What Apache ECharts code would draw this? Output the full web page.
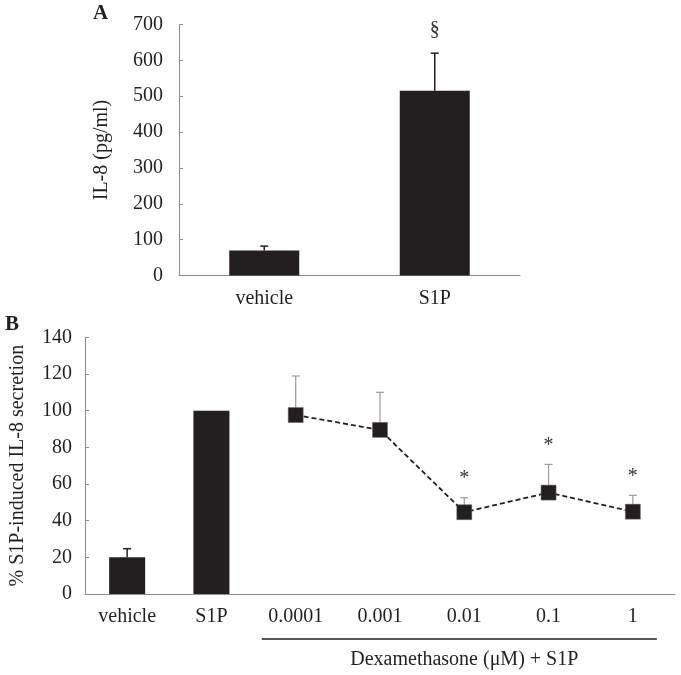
<!DOCTYPE html>
<html><head><meta charset="utf-8">
<script src="https://cdn.jsdelivr.net/npm/echarts@6/dist/echarts.min.js"></script>
<style>html,body{margin:0;padding:0;background:#fff}#c{width:681px;height:675px}</style>
</head><body><div id="c"></div>
<script>
// ---- Panel A data ----
const catsA = ['vehicle', 'S1P'];
const meanA = [70, 515];
const upperA = [82, 620];
const marksA = ['', '§'];
const yA = { min: 0, max: 700, interval: 100 };
const yNameA = 'IL-8 (pg/ml)';

// ---- Panel B data ----
const catsB = ['vehicle', 'S1P', '0.0001', '0.001', '0.01', '0.1', '1'];
const barB = [20, 100, null, null, null, null, null];
const barUpperB = [24.7, null, null, null, null, null, null];
const lineB = [null, null, 97.6, 89.5, 44.6, 55.3, 44.9];
const lineUpperB = [null, null, 118.9, 110, 52.5, 70.7, 53.8];
const marksB = ['', '', '', '', '*', '*', '*'];
const yB = { min: 0, max: 140, interval: 20 };
const yNameB = '% S1P-induced IL-8 secretion';
const groupLabelB = 'Dexamethasone (μM) + S1P';
const panelLetters = ['A', 'B'];

const FONT = '"Liberation Serif", "Times New Roman", serif';
const INK = '#231f20';
const AXIS = '#8c8c8c';

function errData(means, uppers, marks) {
  const out = [];
  means.forEach((m, i) => {
    if (m != null && uppers[i] != null) out.push({ value: [i, m, uppers[i]], mark: marks[i] });
  });
  return out;
}
function errSeries(xi, yi, data, color, width, capHalf, markGap) {
  return {
    type: 'custom', xAxisIndex: xi, yAxisIndex: yi, z: 1, silent: true,
    data: data,
    renderItem: function (params, api) {
      const i = api.value(0), m = api.value(1), u = api.value(2);
      const p0 = api.coord([i, m]), p1 = api.coord([i, u]);
      const ch = [
        { type: 'line', shape: { x1: p0[0], y1: p0[1], x2: p1[0], y2: p1[1] }, style: { stroke: color, lineWidth: width } },
        { type: 'line', shape: { x1: p1[0] - capHalf, y1: p1[1], x2: p1[0] + capHalf, y2: p1[1] }, style: { stroke: color, lineWidth: width } }
      ];
      const mk = data[params.dataIndex].mark;
      if (mk) ch.push({ type: 'text', x: p1[0], y: p1[1] - markGap,
        style: { text: mk, fill: '#333', font: '20px ' + FONT, textAlign: 'center', textVerticalAlign: 'middle' } });
      return { type: 'group', children: ch };
    }
  };
}

const axisLabelStyle = { fontFamily: FONT, fontSize: 20, color: INK };

const chart = echarts.init(document.getElementById('c'), null, { renderer: 'canvas' });
const option = {
  animation: false,
  backgroundColor: '#fff',
  grid: [
    { left: 179, top: 24.5, width: 341, height: 251 },
    { left: 81.7, top: 337.3, width: 593.3, height: 256.7 }
  ],
  xAxis: [
    { gridIndex: 0, type: 'category', data: catsA, axisLine: { lineStyle: { color: AXIS, width: 1 } },
      axisTick: { show: false }, axisLabel: Object.assign({ margin: 13 }, axisLabelStyle) },
    { gridIndex: 1, type: 'category', data: catsB, axisLine: { lineStyle: { color: AXIS, width: 1 } },
      axisTick: { show: false }, axisLabel: Object.assign({ margin: 13 }, axisLabelStyle) }
  ],
  yAxis: [
    { gridIndex: 0, type: 'value', min: yA.min, max: yA.max, interval: yA.interval, splitLine: { show: false },
      axisLine: { show: true, lineStyle: { color: AXIS, width: 1 } },
      axisTick: { show: true, inside: true, length: 4, lineStyle: { color: AXIS } },
      axisLabel: Object.assign({ margin: 16 }, axisLabelStyle),
      name: yNameA, nameLocation: 'middle', nameRotate: 90, nameGap: 67,
      nameTextStyle: { fontFamily: FONT, fontSize: 20, color: INK } },
    { gridIndex: 1, type: 'value', min: yB.min, max: yB.max, interval: yB.interval, splitLine: { show: false },
      axisLine: { show: true, lineStyle: { color: AXIS, width: 1 } },
      axisTick: { show: true, inside: true, length: 4, lineStyle: { color: AXIS } },
      axisLabel: Object.assign({ margin: 13 }, axisLabelStyle),
      name: yNameB, nameLocation: 'middle', nameRotate: 90, nameGap: 57,
      nameTextStyle: { fontFamily: FONT, fontSize: 20, color: INK } }
  ],
  series: [
    { type: 'bar', xAxisIndex: 0, yAxisIndex: 0, data: meanA, barWidth: 70, itemStyle: { color: INK }, z: 2 },
    errSeries(0, 0, errData(meanA, upperA, marksA), INK, 1.5, 4, 23),
    { type: 'bar', xAxisIndex: 1, yAxisIndex: 1, data: barB.map(v => v == null ? '-' : v), barWidth: 36, itemStyle: { color: INK }, z: 2 },
    errSeries(1, 1, errData(barB, barUpperB, marksB), INK, 1.5, 4, 19),
    errSeries(1, 1, errData(lineB, lineUpperB, marksB), '#9a9a9a', 1.2, 4, 19),
    { type: 'line', xAxisIndex: 1, yAxisIndex: 1, data: lineB.map(v => v == null ? '-' : v),
      symbol: 'rect', symbolSize: 15, showSymbol: true, z: 3,
      itemStyle: { color: INK, borderColor: '#666', borderWidth: 0.5 },
      lineStyle: { color: INK, width: 1.8, type: [5, 3] } }
  ]
};
chart.setOption(option);

// bracket under dose labels, derived from the category axis
const xStart = chart.convertToPixel({ xAxisIndex: 1 }, 2);
const xEnd = chart.convertToPixel({ xAxisIndex: 1 }, catsB.length - 1);
chart.setOption({
  graphic: [
    { type: 'text', left: 93, top: 3, style: { text: panelLetters[0], font: 'bold 21px ' + FONT, fill: INK } },
    { type: 'text', left: 5, top: 314, style: { text: panelLetters[1], font: 'bold 21px ' + FONT, fill: INK } },
    { type: 'line', shape: { x1: xStart - 34, y1: 639, x2: xEnd + 24, y2: 639 }, style: { stroke: INK, lineWidth: 1.5 } },
    { type: 'text', x: (xStart - 34 + xEnd + 24) / 2 + 5, y: 660,
      style: { text: groupLabelB, font: '20px ' + FONT, fill: INK, textAlign: 'center', textVerticalAlign: 'middle' } }
  ]
});
</script></body></html>
